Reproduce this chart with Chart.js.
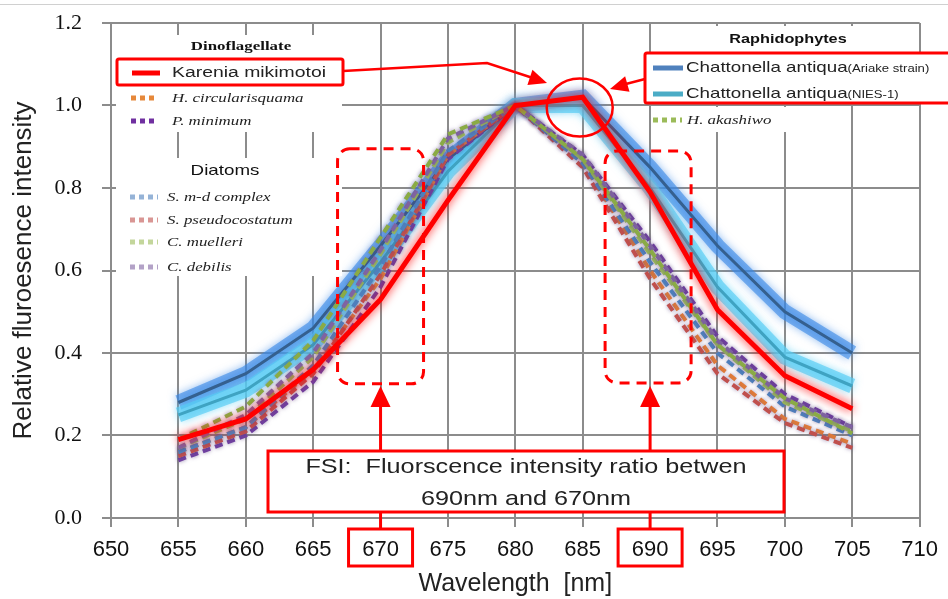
<!DOCTYPE html>
<html>
<head>
<meta charset="utf-8">
<script src="https://cdn.jsdelivr.net/npm/chart.js@4.4.1/dist/chart.umd.min.js"></script>
<style>
  html, body { margin: 0; padding: 0; background: #fff; }
  #wrap { width: 948px; height: 599px; position: relative; }
</style>
</head>
<body>
<div id="wrap"><canvas id="fsiChart"></canvas></div>
<script>
// wavelengths (nm) and axis ticks
const wavelengths = [655, 660, 665, 670, 675, 680, 685, 690, 695, 700, 705];
const xTicks = [650, 655, 660, 665, 670, 675, 680, 685, 690, 695, 700, 705, 710];
const yTicks = [0, 0.2, 0.4, 0.6, 0.8, 1.0, 1.2];

// relative fluorescence intensity
const kareniaMikimotoi   = [0.19, 0.24, 0.36, 0.53, 0.77, 1.00, 1.02, 0.79, 0.505, 0.345, 0.265];
const chattonellaAriake  = [0.28, 0.35, 0.46, 0.66, 0.87, 1.00, 1.02, 0.85, 0.66, 0.50, 0.40];
const chattonellaNies1   = [0.25, 0.31, 0.42, 0.62, 0.84, 1.00, 1.00, 0.80, 0.56, 0.39, 0.32];
const hCircularisquama   = [0.16, 0.22, 0.36, 0.58, 0.88, 1.00, 0.86, 0.60, 0.37, 0.24, 0.18];
const pMinimum           = [0.14, 0.20, 0.33, 0.56, 0.87, 1.00, 0.88, 0.67, 0.44, 0.30, 0.22];
const sMdComplex         = [0.16, 0.22, 0.37, 0.61, 0.89, 1.00, 0.86, 0.62, 0.40, 0.27, 0.20];
const sPseudocostatum    = [0.15, 0.21, 0.35, 0.59, 0.88, 1.00, 0.85, 0.58, 0.35, 0.23, 0.17];
const cMuelleri          = [0.17, 0.24, 0.39, 0.64, 0.91, 1.00, 0.87, 0.64, 0.42, 0.28, 0.21];
const cDebilis           = [0.17, 0.25, 0.40, 0.65, 0.92, 1.00, 0.88, 0.66, 0.43, 0.29, 0.22];
const hAkashiwo          = [0.19, 0.27, 0.43, 0.68, 0.93, 1.00, 0.87, 0.65, 0.42, 0.29, 0.205];

const RED = "#ff0000";
const GRID = "#8c8c8c";
const SX = 1.25; // the figure's text is a bit stretched sideways

function pts(values) {
  return wavelengths.map((w, i) => ({ x: w, y: values[i] }));
}

function dashed(label, values, color, order) {
  return {
    label: label,
    data: pts(values),
    borderColor: color,
    borderWidth: 4,
    borderDash: [8, 5],
    glow: "rgba(95,70,130,0.6)",
    glowBlur: 4,
    order: order
  };
}

const datasets = [
  { label: "Karenia mikimotoi", data: pts(kareniaMikimotoi), borderColor: RED, borderWidth: 5,
    glow: "rgba(255,0,0,0.95)", glowBlur: 10, order: 0 },
  dashed("H. akashiwo", hAkashiwo, "#8aab45", 2),
  dashed("C. debilis", cDebilis, "#8064a2", 3),
  dashed("C. muelleri", cMuelleri, "#9bbb59", 4),
  dashed("S. m-d complex", sMdComplex, "#4f81bd", 5),
  dashed("S. pseudocostatum", sPseudocostatum, "#c0504d", 6),
  dashed("H. circularisquama", hCircularisquama, "#e07b39", 7),
  dashed("P. minimum", pMinimum, "#7040a0", 8),
  { label: "Chattonella antiqua (NIES-1)", data: pts(chattonellaNies1), borderColor: "#3fa3c2", borderWidth: 3, order: 9 },
  { label: "Chattonella antiqua (Ariake strain)", data: pts(chattonellaAriake), borderColor: "#35608f", borderWidth: 3, order: 10 },
  // soft halos behind the two Chattonella lines
  { label: "halo NIES-1", data: pts(chattonellaNies1), borderColor: "rgba(85,205,245,0.65)", borderWidth: 15,
    glow: "rgba(85,205,245,0.9)", glowBlur: 9, order: 11 },
  { label: "halo Ariake", data: pts(chattonellaAriake), borderColor: "rgba(55,135,230,0.6)", borderWidth: 15,
    glow: "rgba(55,135,230,0.9)", glowBlur: 9, order: 12 }
];

const glowPlugin = {
  id: "glow",
  beforeDatasetDraw(chart, args) {
    const ds = chart.data.datasets[args.index];
    chart.ctx.save();
    if (ds.glow) {
      chart.ctx.shadowColor = ds.glow;
      chart.ctx.shadowBlur = ds.glowBlur;
    }
  },
  afterDatasetDraw(chart) {
    chart.ctx.restore();
  }
};

function sText(ctx, txt, x, y, font, align, color, sx) {
  const k = sx || SX;
  ctx.save();
  ctx.translate(x, y);
  ctx.scale(k, 1);
  ctx.font = font;
  ctx.fillStyle = color || "#222";
  ctx.textAlign = align || "left";
  ctx.textBaseline = "middle";
  ctx.fillText(txt, 0, 0);
  const w = ctx.measureText(txt).width * k;
  ctx.restore();
  return w;
}

function sample(ctx, x1, x2, y, color, width, dash) {
  ctx.save();
  ctx.strokeStyle = color;
  ctx.lineWidth = width;
  ctx.setLineDash(dash || []);
  ctx.beginPath();
  ctx.moveTo(x1, y);
  ctx.lineTo(x2, y);
  ctx.stroke();
  ctx.restore();
}

function arrowHead(ctx, fx, fy, tx, ty, len, half) {
  const a = Math.atan2(ty - fy, tx - fx);
  ctx.beginPath();
  ctx.moveTo(tx, ty);
  ctx.lineTo(tx - len * Math.cos(a) + half * Math.sin(a), ty - len * Math.sin(a) - half * Math.cos(a));
  ctx.lineTo(tx - len * Math.cos(a) - half * Math.sin(a), ty - len * Math.sin(a) + half * Math.cos(a));
  ctx.closePath();
  ctx.fill();
}

function roundRect(ctx, x, y, w, h, r) {
  ctx.beginPath();
  ctx.roundRect(x, y, w, h, r);
  ctx.stroke();
}

const overlayPlugin = {
  id: "overlay",
  afterDraw(chart) {
    const ctx = chart.ctx;
    const xs = chart.scales.x;
    const ys = chart.scales.y;
    const x670 = xs.getPixelForValue(670);
    const x690 = xs.getPixelForValue(690);
    const serifIt = "italic 13.5px 'Liberation Serif', serif";

    ctx.save();
    // thin frame line at the very top of the picture
    ctx.fillStyle = "#d0d0d0";
    ctx.fillRect(0, 4, chart.width, 1);

    // legend backgrounds
    ctx.fillStyle = "#fff";
    ctx.fillRect(116, 35, 226, 97);
    ctx.fillRect(116, 158, 226, 118);
    ctx.fillRect(662, 26, 252, 26);
    ctx.fillRect(645, 53, 303, 50);
    ctx.fillRect(658, 107, 190, 25);

    // left legend: Dinoflagellate
    sText(ctx, "Dinoflagellate", 241, 47, "bold 13.5px 'Liberation Serif', serif", "center", "#111");
    sample(ctx, 132, 160, 73, RED, 5);
    sText(ctx, "Karenia mikimotoi", 172, 73, "15.5px 'Liberation Sans', sans-serif");
    sample(ctx, 131, 158, 98, "#e6883a", 5, [5, 4]);
    sText(ctx, "H. circularisquama", 172, 98, serifIt);
    sample(ctx, 131, 158, 121, "#7030a0", 5, [5, 4]);
    sText(ctx, "P. minimum", 172, 121, serifIt);

    // Diatoms
    sText(ctx, "Diatoms", 225, 171, "15px 'Liberation Sans', sans-serif", "center", "#111");
    const diatoms = [
      ["S. m-d complex", "#95b3d7", 197],
      ["S. pseudocostatum", "#d99694", 220],
      ["C. muelleri", "#c3d69b", 242],
      ["C. debilis", "#b3a2c7", 267]
    ];
    diatoms.forEach(([t, c, y]) => {
      sample(ctx, 130, 158, y, c, 5, [5, 4]);
      sText(ctx, t, 167, y, serifIt);
    });

    // right legend: Raphidophytes
    sText(ctx, "Raphidophytes", 788, 39, "bold 13px 'Liberation Sans', sans-serif", "center", "#111");
    sample(ctx, 653, 683, 68, "#4f81bd", 5);
    let w = sText(ctx, "Chattonella antiqua", 686, 68, "15px 'Liberation Sans', sans-serif");
    sText(ctx, "(Ariake strain)", 686 + w, 69, "10.5px 'Liberation Sans', sans-serif");
    sample(ctx, 653, 683, 94, "#4bacc6", 5);
    w = sText(ctx, "Chattonella antiqua", 686, 94, "15px 'Liberation Sans', sans-serif");
    sText(ctx, "(NIES-1)", 686 + w, 95, "10.5px 'Liberation Sans', sans-serif");
    sample(ctx, 653, 682, 120, "#9bbb59", 5, [5, 4]);
    sText(ctx, "H. akashiwo", 687, 120, serifIt);

    // red annotations
    ctx.strokeStyle = RED;
    ctx.fillStyle = RED;
    ctx.lineWidth = 3;
    roundRect(ctx, 117, 59, 226, 26, 2);
    roundRect(ctx, 645, 53, 310, 50, 2);

    // arrows toward the peak circle
    ctx.lineWidth = 2.5;
    ctx.beginPath();
    ctx.moveTo(343, 71);
    ctx.lineTo(487, 63);
    ctx.lineTo(536, 79);
    ctx.stroke();
    arrowHead(ctx, 487, 63, 547, 83, 18, 8);
    ctx.beginPath();
    ctx.moveTo(645, 79);
    ctx.lineTo(622, 85);
    ctx.stroke();
    arrowHead(ctx, 645, 79, 610, 89, 18, 8);

    const cx = xs.getPixelForValue(685) - 3;
    const cy = ys.getPixelForValue(1.0) + 2;
    ctx.beginPath();
    ctx.ellipse(cx, cy, 33, 29, 0, 0, Math.PI * 2);
    ctx.stroke();

    // dashed boxes at 670 nm and 690 nm
    ctx.lineWidth = 3;
    ctx.setLineDash([10, 7]);
    roundRect(ctx, x670 - 43, ys.getPixelForValue(0.895), 86, 235, 12);
    roundRect(ctx, x690 - 45, ys.getPixelForValue(0.89), 86, 232, 12);
    ctx.setLineDash([]);

    // FSI box
    ctx.fillStyle = "#fff";
    ctx.fillRect(268, 451, 516, 61);
    ctx.fillStyle = RED;
    ctx.strokeRect(268, 451, 516, 61);
    sText(ctx, "FSI:  Fluorscence intensity ratio betwen", 526, 467, "21px 'Liberation Sans', sans-serif", "center", "#222", 1.2);
    sText(ctx, "690nm and 670nm", 526, 499, "21px 'Liberation Sans', sans-serif", "center", "#222", 1.2);

    // vertical arrows up to the dashed boxes
    ctx.fillStyle = RED;
    ctx.lineWidth = 3;
    [x670, x690].forEach(x => {
      ctx.beginPath();
      ctx.moveTo(x, 451);
      ctx.lineTo(x, 405);
      ctx.stroke();
      arrowHead(ctx, x, 451, x, 386, 21, 10);
      ctx.beginPath();
      ctx.moveTo(x, 512);
      ctx.lineTo(x, 529);
      ctx.stroke();
      ctx.strokeRect(x - 32, 529, 64, 37);
    });
    ctx.restore();
  }
};

new Chart(document.getElementById("fsiChart"), {
  type: "line",
  data: { datasets: datasets },
  plugins: [glowPlugin, overlayPlugin],
  options: {
    responsive: true,
    maintainAspectRatio: false,
    animation: false,
    layout: { padding: { top: 23, right: 25, left: 0, bottom: 0 } },
    elements: { point: { radius: 0 }, line: { tension: 0, fill: false } },
    plugins: { legend: { display: false }, tooltip: { enabled: false } },
    scales: {
      x: {
        type: "linear",
        min: 650,
        max: 710,
        afterBuildTicks: s => { s.ticks = xTicks.map(v => ({ value: v })); },
        afterFit: s => { s.height = 81; },
        ticks: {
          color: "#111",
          padding: 10,
          maxRotation: 0,
          autoSkip: false,
          font: { family: "'Liberation Sans Narrow', 'Liberation Sans', sans-serif", size: 22 }
        },
        grid: { color: GRID, lineWidth: 2, tickLength: 9 },
        border: { color: GRID, width: 2 },
        title: {
          display: true,
          text: "Wavelength  [nm]",
          color: "#222",
          padding: { top: 0, bottom: 0 },
          font: { family: "'Liberation Sans', sans-serif", size: 25 }
        }
      },
      y: {
        min: 0,
        max: 1.2,
        afterBuildTicks: s => { s.ticks = yTicks.map(v => ({ value: v })); },
        afterFit: s => { s.width = 111; s.paddingTop = 0; s.paddingBottom = 0; },
        ticks: {
          color: "#111",
          padding: 20,
          callback: v => v.toFixed(1),
          font: { family: "'Liberation Serif', serif", size: 22 }
        },
        grid: { color: GRID, lineWidth: 2, tickLength: 9 },
        border: { color: GRID, width: 2 },
        title: {
          display: true,
          text: "Relative fluroesence intensity",
          color: "#222",
          padding: { top: 8, bottom: 0 },
          font: { family: "'Liberation Sans', sans-serif", size: 26 }
        }
      }
    }
  }
});
</script>
</body>
</html>
